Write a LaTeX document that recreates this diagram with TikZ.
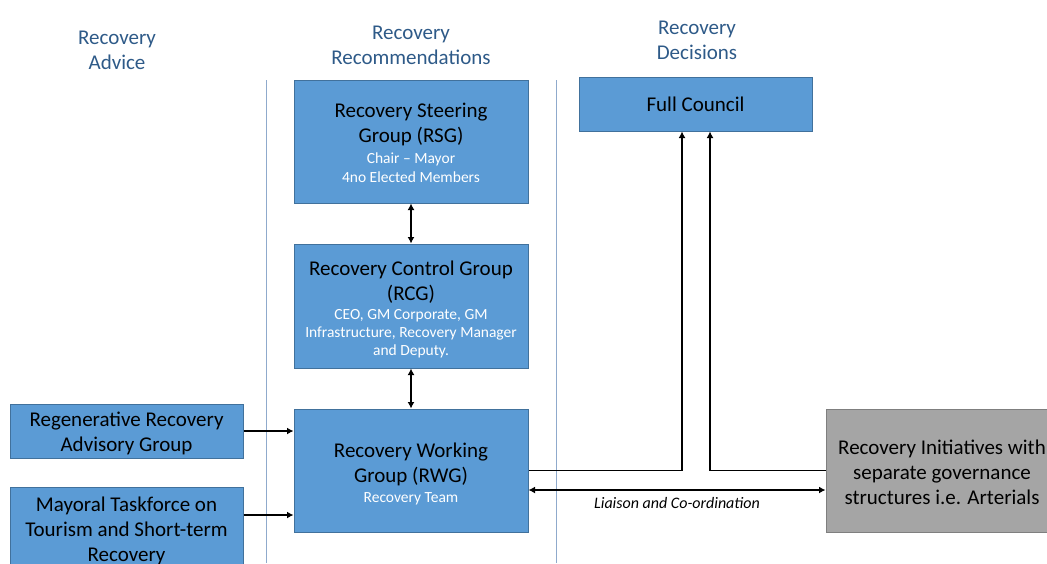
\documentclass[tikz,border=0pt]{standalone}
\usepackage{fontspec}
\setmainfont{Carlito}
\usetikzlibrary{arrows.meta,calc}
\definecolor{boxblue}{HTML}{5B9BD5}
\definecolor{boxedge}{HTML}{41719C}
\definecolor{boxgray}{HTML}{A5A5A5}
\definecolor{grayedge}{HTML}{7F7F7F}
\definecolor{headblue}{HTML}{2E5A88}
\definecolor{sepline}{HTML}{8FAACC}
\tikzset{
  bluebox/.style={draw=boxedge, line width=1pt, fill=boxblue, align=center, inner sep=0pt,
    font=\fontsize{21}{25}\selectfont},
  graybox/.style={draw=grayedge, line width=1pt, fill=boxgray, align=center, inner sep=0pt,
    font=\fontsize{21}{25}\selectfont},
  boxtext/.style={align=center, inner sep=0pt, font=\fontsize{21}{25}\selectfont},
  header/.style={text=headblue, align=center, font=\fontsize{21}{25}\selectfont},
  conn/.style={line width=1.3pt, -{Latex[length=6.5pt,width=7pt]}},
  conn2/.style={line width=1.3pt, {Latex[length=6.5pt,width=7pt]}-{Latex[length=6.5pt,width=7pt]}},
  sepstyle/.style={draw=sepline, line width=0.8pt},
}
\newcommand{\subtxt}[1]{{\color{white}\fontsize{15.5}{18.5}\selectfont #1}}
\begin{document}
\begin{tikzpicture}[x=1pt,y=-1pt]
\useasboundingbox (0,0) rectangle (1047,563);
\clip (0,0) rectangle (1047,563);
% column separators
\draw[sepstyle] (266,80) -- (266,563);
\draw[sepstyle] (556,80) -- (556,563);
% headers
\node[header] (h1) at (117,50.5) {Recovery\\Advice};
\node[header] (h2) at (411,45.5) {Recovery\\Recommendations};
\node[header] (h3) at (697,40.5) {Recovery\\Decisions};
% boxes
\node[bluebox, minimum width=234pt, minimum height=123pt] (rsg) at (411,141.5) {};
\node[boxtext] (rsgt) at ([yshift=-1.5pt]rsg.center)
  {Recovery Steering\\Group (RSG)\\[-4pt]\subtxt{Chair -- Mayor}\\[-6pt]\subtxt{4no Elected Members}};
\node[bluebox, minimum width=234pt, minimum height=124pt] (rcg) at (411,306) {};
\node[boxtext] (rcgt) at ([yshift=-3.5pt]rcg.center)
  {Recovery Control Group\\(RCG)\\[-6pt]\subtxt{CEO, GM Corporate, GM}\\[-7pt]\subtxt{Infrastructure, Recovery Manager}\\[-7pt]\subtxt{and Deputy.}};
\node[bluebox, minimum width=234pt, minimum height=123pt] (rwg) at (411,470.5) {};
\node[boxtext] (rwgt) at ([yshift=-3.5pt]rwg.center)
  {Recovery Working\\Group (RWG)\\[-5pt]\subtxt{Recovery Team}};
\node[bluebox, minimum width=233pt, minimum height=54pt] (fc) at (695.5,104)
  {Full Council};
\node[bluebox, minimum width=233pt, minimum height=54pt] (regen) at (126.5,431) {};
\node[boxtext] (regent) at ([yshift=-2pt]regen.center) {Regenerative Recovery\\Advisory Group};
\node[bluebox, minimum width=233pt, minimum height=84pt] (mayor) at (126.5,529) {};
\node[boxtext] (mayort) at ([yshift=-2pt]mayor.center) {Mayoral Taskforce on\\Tourism and Short-term\\Recovery};
\node[graybox, minimum width=232pt, minimum height=123pt] (init) at (942,470.5) {};
\node[boxtext] (initt) at ([yshift=-2pt]init.center) {Recovery Initiatives with\\separate governance\\structures i.e. Arterials};
% connectors
\draw[conn2] (rsg.south) -- (rcg.north);
\draw[conn2] (rcg.south) -- (rwg.north);
\draw[conn] (regen.east) -- (regen.east -| rwg.west);
\draw[conn] ([yshift=14pt]mayor.east) -- ([yshift=14pt]mayor.east -| rwg.west);
\draw[conn] (rwg.east) -| ([xshift=-13.5pt]fc.south);
\draw[conn] (init.west) -| ([xshift=14.5pt]fc.south);
\draw[conn2] ([yshift=-19.5pt]rwg.east) -- node[below=3pt, font=\itshape\fontsize{16}{18}\selectfont] (liaison) {Liaison and Co-ordination} ([yshift=-19.5pt]init.west);
\end{tikzpicture}
\end{document}
